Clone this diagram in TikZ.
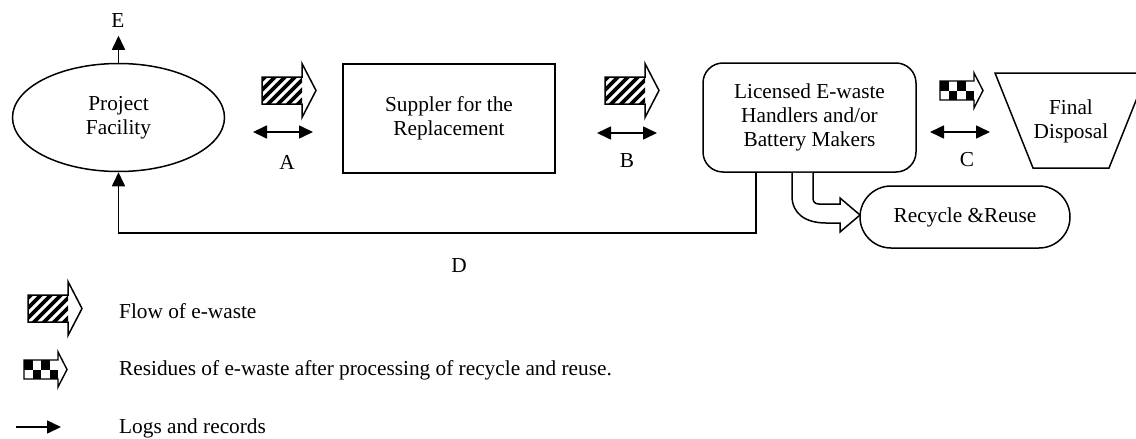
\documentclass[tikz,border=0pt]{standalone}
\usepackage{fontspec}
\setmainfont{Liberation Serif}
\usetikzlibrary{arrows.meta,shapes.geometric}

\tikzset{
  txt/.style={font=\fontsize{21.3}{24.2}\selectfont, align=center, inner sep=0pt},
  outline/.style={draw, line width=1.5pt},
  logs/.style={line width=1.6pt,
    {Triangle[length=14pt,width=13pt]}-{Triangle[length=14pt,width=13pt]}},
  logsto/.style={line width=1.6pt, -{Triangle[length=14pt,width=13pt]}},
  box/.style={outline, txt, minimum width=212pt, minimum height=109pt},
}

% hatched block arrow: flow of e-waste; #1,#2 = top-left corner of the shaft
\newcommand{\flowarrow}[2]{%
  \begin{scope}[shift={(#1,#2)}]
    \begin{scope}
      \clip (0,0) rectangle (40,27);
      \foreach \k in {-38,-28,...,48}
        \draw[line width=3.6pt] (\k,31) -- ++(40,-40);
    \end{scope}
    \draw[line width=1.5pt, line join=miter]
      (0,0) -- (40,0) -- (40,-13.5) -- (54,13.5) -- (40,40.5) -- (40,27) -- (0,27) -- cycle;
  \end{scope}}

% checkered block arrow: residues; #1,#2 = top-left corner of the shaft
\newcommand{\residuearrow}[2]{%
  \begin{scope}[shift={(#1,#2)}]
    \foreach \i in {0,1,2,3}
      \foreach \j in {0,1} {
        \pgfmathtruncatemacro{\cellpar}{mod(\i+\j,2)}
        \ifnum\cellpar=0
          \fill (\i*8.5,\j*9.5) rectangle ++(8.5,9.5);
        \fi
      }
    \draw[line width=1.4pt, line join=miter]
      (0,0) -- (34,0) -- (34,-8) -- (43,9.5) -- (34,27) -- (34,19) -- (0,19) -- cycle;
  \end{scope}}

\begin{document}
\begin{tikzpicture}[x=1pt, y=-1pt]
  \useasboundingbox (0,0) rectangle (1136,439);
  \clip (0,0) rectangle (1136,439);

  % main boxes
  \node[outline, ellipse, txt, minimum width=212pt, minimum height=108pt]
    (pf) at (118.5,117.5) {Project\\Facility};
  \node[box] (sup) at (449,118.5) {Suppler for the\\Replacement};
  \node[box, rounded corners=20pt, minimum width=213pt]
    (lic) at (809.5,117.5) {Licensed E-waste\\Handlers and/or\\Battery Makers};
  \node[outline, txt, rounded corners=31pt, minimum width=210pt, minimum height=62pt]
    (rr) at (965,217) {Recycle \&Reuse};

  % final disposal hopper
  \draw[line width=1.5pt] (995,73) -- (1147,73) -- (1109,168) -- (1033,168) -- cycle;
  \node[txt] (fd) at (1071,121) {Final\\Disposal};

  % labels
  \node[txt] (E) at (118,21) {E};
  \node[txt] (A) at (287,162) {A};
  \node[txt] (B) at (627,161) {B};
  \node[txt] (C) at (967,160) {C};
  \node[txt] (D) at (459,266) {D};

  % logs and records
  \coordinate (a1) at (253,132); \coordinate (a2) at (313,132);
  \coordinate (b1) at (597,133); \coordinate (b2) at (657,133);
  \coordinate (c1) at (930,132); \coordinate (c2) at (990,132);
  \draw[logs] (a1) -- (a2);
  \draw[logs] (b1) -- (b2);
  \draw[logs] (c1) -- (c2);
  \draw[logsto] (pf.north) -- ++(0,-27);
  \coordinate (dcorner) at (756,233);
  \draw[logsto] (dcorner |- lic.south) -- (dcorner) -| (pf.south);

  % flows of e-waste and residues
  \flowarrow{262}{77}
  \flowarrow{605}{77}
  \residuearrow{940}{81}

  % hollow bent arrow towards recycling
  \draw[line width=1.5pt, line join=miter, fill=white]
    (792,172.8) -- (792,196) .. controls (792,214) and (806,223) .. (826,223)
    -- (840,223) -- (840,232) -- (860,215) -- (840,198) -- (840,204)
    -- (819,204) .. controls (815,204) and (813,202) .. (813,198) -- (813,172.8);

  % legend
  \flowarrow{28}{295}
  \residuearrow{24}{360}
  \coordinate (lg1) at (16,427); \coordinate (lg2) at (61,427);
  \draw[logsto] (lg1) -- (lg2);
  \node[txt, anchor=west] (l1) at (119,311) {Flow of e-waste};
  \node[txt, anchor=west] (l2) at (119,370) {Residues of e-waste after processing of recycle and reuse.};
  \node[txt, anchor=west] (l3) at (119,428) {Logs and records};
\end{tikzpicture}
\end{document}
